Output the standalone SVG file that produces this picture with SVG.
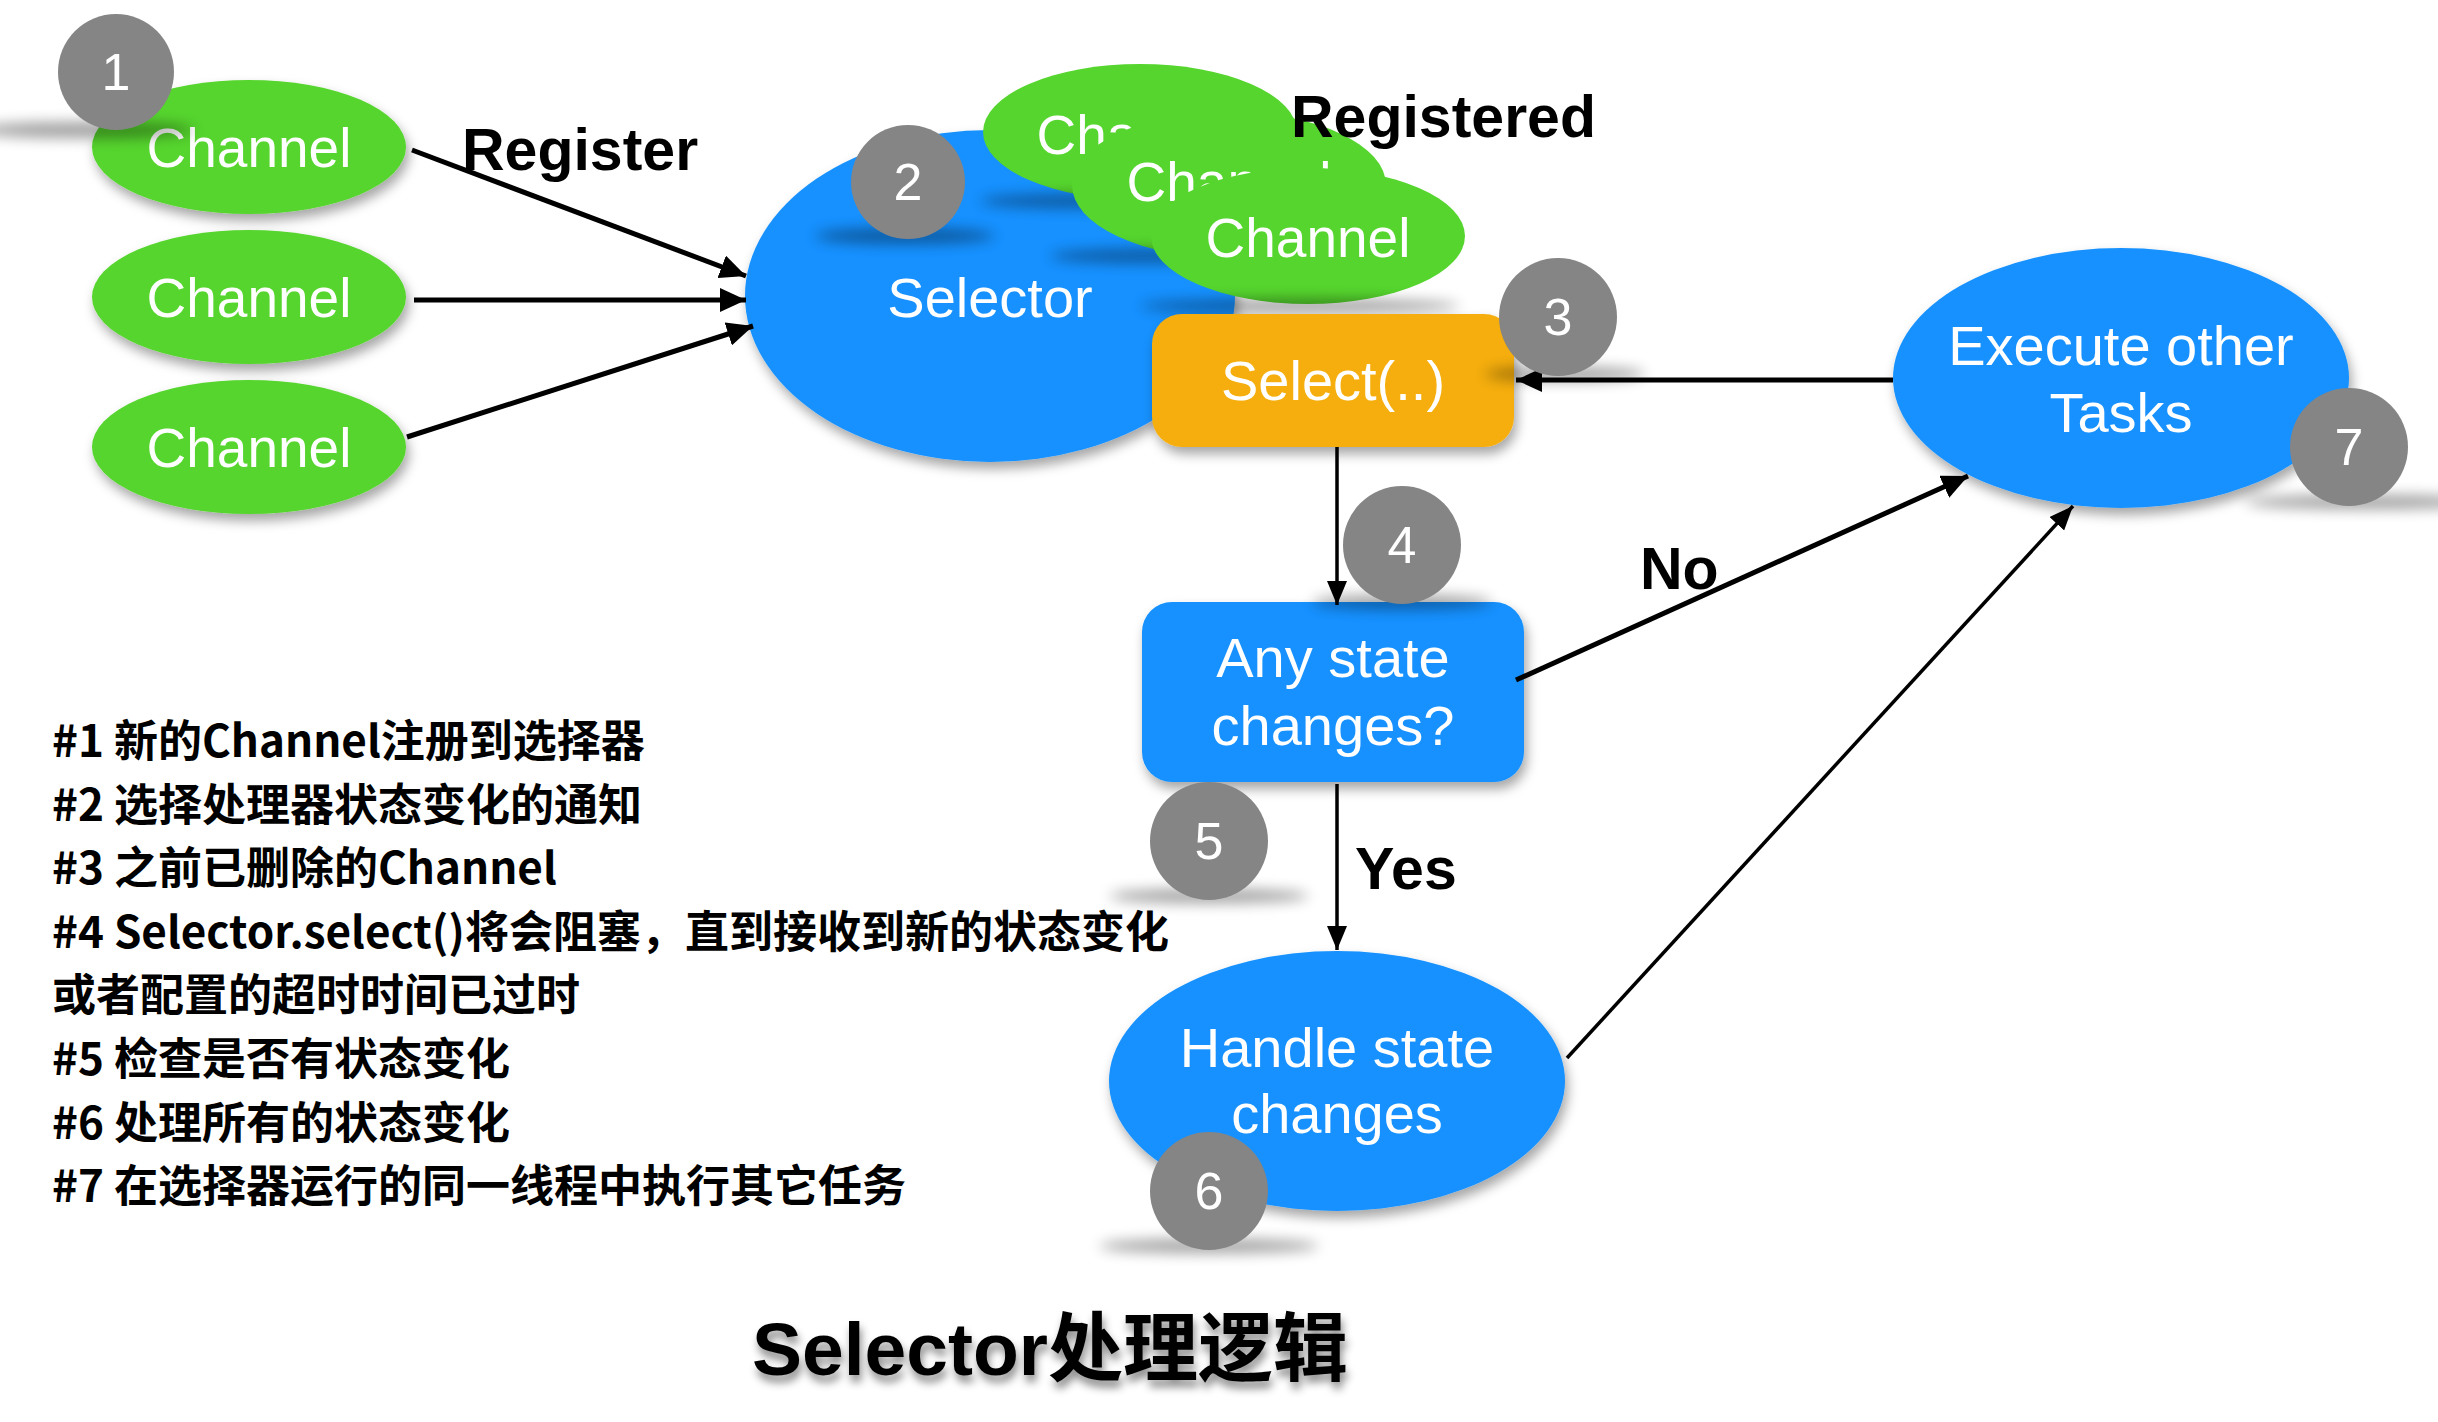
<svg xmlns="http://www.w3.org/2000/svg" width="2438" height="1422" viewBox="0 0 2438 1422">
<defs>
<style>
.lbl{font-family:"Liberation Sans",Arial,sans-serif;fill:#fff;font-size:56px;text-anchor:middle}
.ch{font-size:55px}
.bold{font-family:"Liberation Sans",Arial,sans-serif;font-weight:bold;fill:#000;font-size:59px}
.num{font-family:"Liberation Sans",Arial,sans-serif;fill:#fff;font-size:52px;text-anchor:middle}
.green{fill:#56D52E}
.blue{fill:#1591FF}
.orange{fill:#F5AE0C}
.badge{fill:#858585}
.cs{fill:#000;opacity:0.38;filter:url(#blur)}
.leg{font-family:"Noto Sans CJK SC","Liberation Sans",sans-serif;font-weight:bold;font-size:44px;fill:#000}
.title{font-family:"Liberation Sans","Noto Sans CJK SC",sans-serif;font-weight:bold;font-size:75px;fill:#000;text-anchor:middle}
.conn{stroke:#000;fill:none}
.thick{stroke-width:5;marker-end:url(#ah)}
.thin{stroke-width:3.5;marker-end:url(#ah2)}
</style>
<filter id="ds" x="-20%" y="-20%" width="140%" height="150%">
<feDropShadow dx="3" dy="7" stdDeviation="6" flood-color="#000" flood-opacity="0.35"/>
</filter>
<filter id="tds" x="-10%" y="-30%" width="120%" height="170%">
<feDropShadow dx="2" dy="7" stdDeviation="4" flood-color="#000" flood-opacity="0.45"/>
</filter>
<filter id="blur" x="-50%" y="-300%" width="200%" height="700%">
<feGaussianBlur stdDeviation="7"/>
</filter>
<marker id="ah" markerUnits="userSpaceOnUse" markerWidth="27" markerHeight="24" refX="26" refY="12" orient="auto">
<path d="M0,0 L26,12 L0,24 Z" fill="#000"/>
</marker>
<marker id="ah2" markerUnits="userSpaceOnUse" markerWidth="25" markerHeight="20" refX="24" refY="10" orient="auto">
<path d="M0,0 L24,10 L0,20 Z" fill="#000"/>
</marker>
</defs>
<rect width="2438" height="1422" fill="#fff"/>

<g id="channel1">
<ellipse class="green" cx="249" cy="147" rx="157" ry="67" filter="url(#ds)"/>
<text class="lbl ch" x="249" y="167">Channel</text>
</g>
<g id="channel2">
<ellipse class="green" cx="249" cy="297" rx="157" ry="67" filter="url(#ds)"/>
<text class="lbl ch" x="249" y="317">Channel</text>
</g>
<g id="channel3">
<ellipse class="green" cx="249" cy="447" rx="157" ry="67" filter="url(#ds)"/>
<text class="lbl ch" x="249" y="467">Channel</text>
</g>

<g id="selector">
<ellipse class="blue" cx="990" cy="296" rx="245" ry="166" filter="url(#ds)"/>
<text class="lbl" x="990" y="317">Selector</text>
</g>

<g id="badge2">
<ellipse class="cs" cx="905" cy="236" rx="90" ry="8"/>
<circle class="badge" cx="908" cy="182" r="57"/>
<text class="num" x="908" y="200">2</text>
</g>

<g id="registered-channels">
<ellipse class="green" cx="1140" cy="132" rx="157" ry="68"/>
<text class="lbl ch" x="1139" y="154">Channel</text>
<ellipse class="cs" cx="1080" cy="201" rx="100" ry="7"/>
<ellipse class="green" cx="1229" cy="185" rx="157" ry="73"/>
<text class="lbl ch" x="1229" y="201">Channel</text>
<ellipse class="cs" cx="1150" cy="256" rx="100" ry="7"/>
<ellipse class="green" cx="1308" cy="236" rx="157" ry="68"/>
<text class="lbl ch" x="1308" y="257">Channel</text>
<ellipse class="cs" cx="1300" cy="306" rx="160" ry="7"/>
</g>
<text id="registered-label" class="bold" x="1291" y="137">Registered</text>

<g id="select">
<rect class="orange" x="1152" y="314" width="362" height="133" rx="30" filter="url(#ds)"/>
<text class="lbl" x="1333" y="400" font-size="54">Select(..)</text>
</g>

<g id="execute">
<ellipse class="blue" cx="2121" cy="378" rx="228" ry="130" filter="url(#ds)"/>
<text class="lbl" x="2121" y="365">Execute other</text>
<text class="lbl" x="2121" y="432">Tasks</text>
</g>

<g id="any-state">
<rect class="blue" x="1142" y="602" width="382" height="180" rx="30" filter="url(#ds)"/>
<text class="lbl" x="1333" y="677">Any state</text>
<text class="lbl" x="1333" y="745">changes?</text>
</g>

<g id="handle">
<ellipse class="blue" cx="1337" cy="1081" rx="228" ry="130" filter="url(#ds)"/>
<text class="lbl" x="1337" y="1067">Handle state</text>
<text class="lbl" x="1337" y="1133">changes</text>
</g>

<g id="connectors">
<line class="conn thick" x1="412" y1="150" x2="746" y2="276"/>
<line class="conn thick" x1="414" y1="300" x2="746" y2="300"/>
<line class="conn thick" x1="407" y1="437" x2="753" y2="326"/>
<line class="conn thick" x1="1893" y1="380" x2="1516" y2="380"/>
<line class="conn thin" x1="1337" y1="447" x2="1337" y2="605"/>
<line class="conn thin" x1="1337" y1="784" x2="1337" y2="950"/>
<line class="conn thick" x1="1516" y1="680" x2="1968" y2="476"/>
<line class="conn thin" x1="1567" y1="1058" x2="2073" y2="506"/>
<text class="bold" x="462" y="170">Register</text>
<text class="bold" x="1640" y="589" font-size="58">No</text>
<text class="bold" x="1355" y="889" font-size="56">Yes</text>
</g>

<g id="badge1">
<ellipse class="cs" cx="85" cy="130" rx="110" ry="8"/>
<circle class="badge" cx="116" cy="72" r="58"/>
<text class="num" x="116" y="90">1</text>
</g>
<g id="badge3">
<ellipse class="cs" cx="1565" cy="374" rx="80" ry="7"/>
<circle class="badge" cx="1558" cy="317" r="59"/>
<text class="num" x="1558" y="335">3</text>
</g>
<g id="badge4">
<ellipse class="cs" cx="1402" cy="602" rx="90" ry="7"/>
<circle class="badge" cx="1402" cy="545" r="59"/>
<text class="num" x="1402" y="563">4</text>
</g>
<g id="badge5">
<ellipse class="cs" cx="1209" cy="896" rx="100" ry="7"/>
<circle class="badge" cx="1209" cy="841" r="59"/>
<text class="num" x="1209" y="859">5</text>
</g>
<g id="badge6">
<ellipse class="cs" cx="1209" cy="1246" rx="110" ry="7" opacity="0.3"/>
<circle class="badge" cx="1209" cy="1191" r="59"/>
<text class="num" x="1209" y="1209">6</text>
</g>
<g id="badge7">
<ellipse class="cs" cx="2365" cy="502" rx="120" ry="7"/>
<circle class="badge" cx="2349" cy="447" r="59"/>
<text class="num" x="2349" y="465">7</text>
</g>

<g id="legend">
<text class="leg" x="52" y="757">#1 新的Channel注册到选择器</text>
<text class="leg" x="52" y="821">#2 选择处理器状态变化的通知</text>
<text class="leg" x="52" y="884">#3 之前已删除的Channel</text>
<text class="leg" x="52" y="948">#4 Selector.select()将会阻塞，直到接收到新的状态变化</text>
<text class="leg" x="52" y="1011">或者配置的超时时间已过时</text>
<text class="leg" x="52" y="1075">#5 检查是否有状态变化</text>
<text class="leg" x="52" y="1139">#6 处理所有的状态变化</text>
<text class="leg" x="52" y="1202">#7 在选择器运行的同一线程中执行其它任务</text>
</g>

<text id="title" class="title" x="1050" y="1375" filter="url(#tds)">Selector处理逻辑</text>
</svg>
